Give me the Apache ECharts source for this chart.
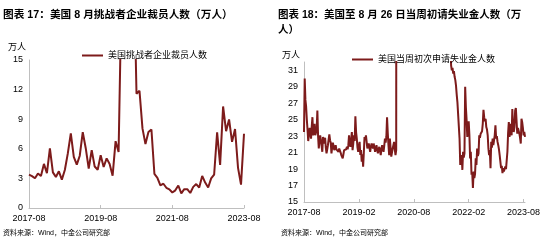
<!DOCTYPE html>
<html>
<head>
<meta charset="utf-8">
<script src="https://cdn.jsdelivr.net/npm/echarts@6/dist/echarts.min.js"></script>
<style>
  html, body { margin: 0; padding: 0; background: #fff; }
  #chart { width: 550px; height: 244px; }
</style>
</head>
<body>
<div id="chart"></div>
<script>
// 挑战者企业裁员人数，月度，2017-08 ~ 2023-08（万人）
const layoffs = [
  3.38, 3.23, 3.01, 3.50, 3.24,
  4.47, 3.54, 6.04, 3.61, 3.15, 3.72, 2.88, 3.85, 5.53, 7.56, 5.19, 4.39,
  5.30, 7.68, 6.06, 4.00, 5.86, 4.20, 3.88, 5.35, 4.16, 5.03, 4.46, 3.28,
  6.77, 5.67, 22.23, 67.11, 39.70, 17.02, 26.26, 11.58, 11.88, 8.07, 6.48, 7.70,
  7.96, 3.45, 3.06, 2.29, 2.46, 2.05, 1.89, 1.57, 1.79, 2.28, 1.49, 1.91,
  1.91, 1.52, 2.14, 2.43, 2.07, 3.25, 2.58, 2.08, 3.00, 3.38, 7.68, 4.37,
  10.29, 7.78, 8.97, 6.70, 8.01, 4.07, 2.37, 7.52
]

// 初请失业金人数，周度（万人）：疫情前
const claimsBefore = [
  23.5, 30.0, 27.4, 26.6, 25.0, 23.8, 22.4, 23.2, 24.0, 23.4,
  22.7, 24.2, 25.3, 23.1, 23.8, 24.5, 23.1, 23.4, 23.9, 26.1,
  23.0, 21.5, 22.4, 23.1, 22.5, 21.8, 21.1, 22.9, 22.1, 22.3,
  22.8, 21.6, 20.9, 21.4, 21.9, 22.6, 23.2, 22.5, 22.2, 20.9,
  21.6, 22.2, 21.8, 21.3, 21.6, 21.9, 21.4, 21.5, 21.2, 21.1,
  21.5, 21.3, 21.0, 20.7, 20.5, 20.3, 20.8, 21.3, 21.1, 21.5,
  21.4, 21.7, 21.4, 21.9, 23.1, 22.0, 21.7, 22.6, 23.5, 21.3,
  22.1, 23.1, 22.4, 25.4, 23.5, 22.7, 21.6, 21.1, 21.8, 22.3,
  20.7, 21.3, 19.9, 20.8, 19.3, 21.0, 22.9, 22.6, 23.1, 22.3,
  21.5, 21.8, 22.1, 21.6, 21.1, 21.7, 22.1, 21.9, 21.5, 22.1,
  21.6, 21.1, 21.5, 21.9, 21.3, 20.9, 21.4, 21.7, 21.2, 20.7,
  21.4, 21.9, 21.5, 21.1, 21.8, 22.7, 22.2, 22.9, 25.3, 23.4,
  21.9, 20.7, 22.7, 21.6, 20.5, 21.0, 21.5, 21.9, 22.3, 21.4,
  20.7, 21.3, 21.1
]
// 疫情期间
const claimsPandemic = [
  330.7, 686.7, 661.5, 524.5, 444.2, 384.6, 317.6, 268.7, 244.6, 212.6,
  188.6, 156.6, 154.0, 148.2, 141.3, 131.4, 142.2, 143.4, 118.6, 96.3,
  110.6, 101.1, 88.1, 89.3, 89.3, 86.6, 87.0, 84.9, 84.0, 89.8,
  78.7, 75.1, 75.7, 70.9, 74.2, 77.8, 71.2, 85.3, 88.5, 80.3,
  78.7, 78.7, 96.5, 90.0, 84.7, 77.9, 79.3, 86.1, 73.0, 74.5,
  71.2, 77.0, 68.4, 74.4, 76.9, 57.6, 54.7, 55.3, 49.8, 47.3,
  44.4, 40.6, 38.5, 37.6, 41.2, 41.1, 36.4, 38.6, 36.0, 41.9,
  40.0, 38.5, 37.5, 34.8, 35.3, 34.0
]
// 疫情后
const claimsAfter = [
  31.6, 31.0, 31.3, 30.6, 30.9, 30.2, 29.8, 29.1, 28.0, 27.1,
  26.9, 27.0, 22.7, 19.5, 20.4, 20.7, 18.9, 21.1, 20.4, 20.9,
  29.0, 26.5, 25.0, 22.9, 22.7, 24.8, 23.1, 20.3, 21.1, 18.3,
  18.6, 16.7, 18.7, 17.9, 18.4, 20.3, 19.5, 21.5, 20.6, 20.9,
  23.1, 22.8, 23.3, 23.1, 23.6, 24.5, 26.2, 25.3, 24.8, 25.1,
  24.1, 23.8, 23.1, 21.5, 20.7, 21.3, 19.1, 22.3, 21.6, 22.7,
  21.9, 22.5, 23.1, 24.3, 22.7, 23.0, 22.3, 21.9, 21.4, 20.7,
  19.9, 19.1, 19.4, 18.5, 19.1, 18.7, 18.9, 19.3, 19.0, 19.1,
  21.1, 23.4, 24.7, 22.9, 24.5, 24.6, 23.1, 26.3, 24.2, 23.5,
  24.1, 26.1, 26.4, 26.5, 23.3, 24.0, 23.9, 23.3, 22.8, 22.1,
  25.1, 24.7, 24.0, 23.1, 23.5, 22.9
]
const claims = claimsBefore.concat(claimsPandemic, claimsAfter)

const leftTicks = { min: 0, max: 15, interval: 3, showMax: true }
const rightTicks = { min: 15, max: 32, interval: 2, showMax: false }

// 月份类目
const months = []
for (let y = 2017, m = 8; months.length < layoffs.length; m++) {
  if (m > 12) { m = 1; y++ }
  months.push(y + '-' + String(m).padStart(2, '0'))
}
// 周度类目，从 2017-08-12 起
const weeks = []
const start = Date.UTC(2017, 7, 12)
for (let i = 0; i < claims.length; i++) {
  const d = new Date(start + i * 7 * 86400000)
  weeks.push(d.getUTCFullYear() + '-' + String(d.getUTCMonth() + 1).padStart(2, '0'))
}

const FONT = '"Liberation Sans", Arial, "Noto Sans CJK SC", sans-serif'
const RED = '#7d1b1b'
const AXIS = '#bfbfbf'

function xAxis(gridIndex, data, interval) {
  return {
    type: 'category',
    gridIndex,
    data,
    boundaryGap: false,
    axisLine: { lineStyle: { color: AXIS, width: 1 } },
    axisTick: { inside: true, length: 3, interval, lineStyle: { color: AXIS } },
    axisLabel: { interval, color: '#000', fontSize: 9, fontFamily: FONT, margin: 6 }
  }
}
function yAxis(gridIndex, ticks) {
  return {
    type: 'value',
    gridIndex,
    min: ticks.min,
    max: ticks.max,
    interval: ticks.interval,
    axisLine: { show: true, lineStyle: { color: AXIS, width: 1 } },
    axisTick: { show: false },
    splitLine: { show: false },
    axisLabel: { color: '#000', fontSize: 9, fontFamily: FONT, margin: 6, showMaxLabel: ticks.showMax }
  }
}
function label(x, y, text, font) {
  return { type: 'text', x, y, style: { text, fill: '#000', font, verticalAlign: 'middle' } }
}

const chart = echarts.init(document.getElementById('chart'))
chart.setOption({
  animation: false,
  graphic: [
    label(3, 15, '图表 17：美国 8 月挑战者企业裁员人数（万人）', 'bold 10.7px ' + FONT),
    label(278, 15, '图表 18：美国至 8 月 26 日当周初请失业金人数（万', 'bold 10.5px ' + FONT),
    label(278, 30, '人）', 'bold 10.5px ' + FONT),
    label(8, 48, '万人', '9px ' + FONT),
    label(282, 56, '万人', '9px ' + FONT),
    label(3, 233, '资料来源：Wind，中金公司研究部', '7px ' + FONT),
    label(281, 233, '资料来源：Wind，中金公司研究部', '7px ' + FONT)
  ],
  legend: [
    {
      data: ['美国挑战者企业裁员人数'], left: 77, top: 46,
      icon: 'rect', itemWidth: 21, itemHeight: 2,
      textStyle: { color: '#000', fontSize: 9, fontFamily: FONT }
    },
    {
      data: ['美国当周初次申请失业金人数'], left: 347, top: 50,
      icon: 'rect', itemWidth: 21, itemHeight: 2,
      textStyle: { color: '#000', fontSize: 9, fontFamily: FONT }
    }
  ],
  grid: [
    { left: 29, top: 60, width: 215, height: 148 },
    { left: 304, top: 62, width: 221, height: 140 }
  ],
  xAxis: [xAxis(0, months, 23), xAxis(1, weeks, 77)],
  yAxis: [yAxis(0, leftTicks), yAxis(1, rightTicks)],
  series: [
    {
      name: '美国挑战者企业裁员人数', type: 'line', xAxisIndex: 0, yAxisIndex: 0,
      data: layoffs, showSymbol: false, clip: true,
      lineStyle: { color: RED, width: 2 }, itemStyle: { color: RED }
    },
    {
      name: '美国当周初次申请失业金人数', type: 'line', xAxisIndex: 1, yAxisIndex: 1,
      data: claims, showSymbol: false, clip: true,
      lineStyle: { color: RED, width: 2 }, itemStyle: { color: RED }
    }
  ]
})
</script>
</body>
</html>
